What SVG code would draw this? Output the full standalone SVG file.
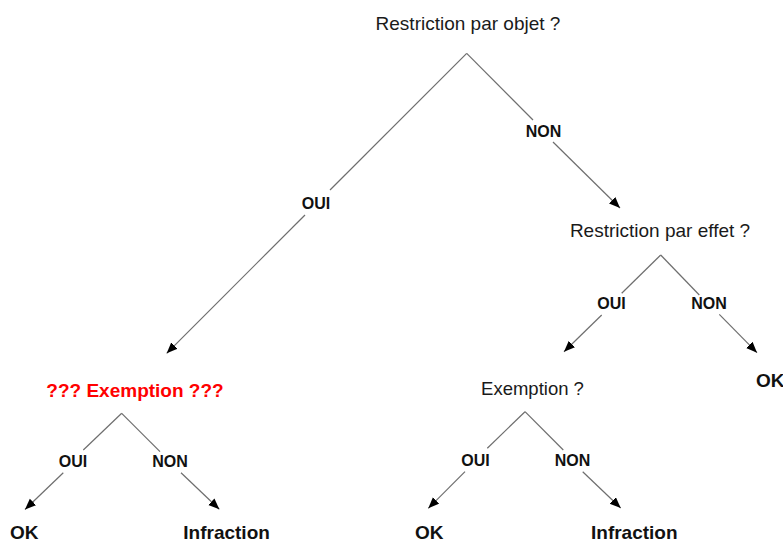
<svg xmlns="http://www.w3.org/2000/svg" width="783" height="542" viewBox="0 0 783 542">
<style>
.q{font-family:"Liberation Sans",Arial,sans-serif;font-size:19px;fill:#1a1a1a;text-anchor:middle}
.lbl{font-family:"Liberation Sans",Arial,sans-serif;font-size:16px;font-weight:bold;fill:#111;text-anchor:middle}
.res{font-family:"Liberation Sans",Arial,sans-serif;font-size:19px;font-weight:bold;fill:#111}
.red{font-family:"Liberation Sans",Arial,sans-serif;font-size:19px;font-weight:bold;fill:#ff0000;text-anchor:middle}
#connectors line{stroke:#6e6e6e;stroke-width:1.2;fill:none}
#connectors line.a{marker-end:url(#arr)}
</style>
<defs>
<marker id="arr" markerUnits="userSpaceOnUse" markerWidth="12" markerHeight="10" refX="11" refY="4.5" orient="auto">
<path d="M0,0 L11,4.5 L0,9 Z" fill="#000"/>
</marker>
</defs>
<rect width="783" height="542" fill="#fff"/>
<g id="connectors">
<line x1="466.7" y1="53.3" x2="330" y2="190"/>
<line class="a" x1="305" y1="215" x2="166.7" y2="353.3"/>
<line x1="466.7" y1="53.3" x2="533" y2="120"/>
<line class="a" x1="553" y1="142" x2="620" y2="208"/>
<line x1="660.7" y1="255" x2="621.7" y2="293.3"/>
<line class="a" x1="601.7" y1="315" x2="564" y2="351.7"/>
<line x1="660.7" y1="255" x2="699.3" y2="295"/>
<line class="a" x1="719.3" y1="314.3" x2="757" y2="352.7"/>
<line x1="121.7" y1="413.3" x2="83.3" y2="450"/>
<line class="a" x1="63.3" y1="472.7" x2="25" y2="509.5"/>
<line x1="121.7" y1="413.3" x2="160" y2="451.7"/>
<line class="a" x1="181" y1="472.7" x2="219.3" y2="509.3"/>
<line x1="525" y1="411.7" x2="487.3" y2="448.3"/>
<line class="a" x1="465" y1="471.7" x2="428.3" y2="508.3"/>
<line x1="525" y1="411.7" x2="563.3" y2="450"/>
<line class="a" x1="582.7" y1="471.7" x2="620.7" y2="508"/>
</g>
<g id="labels">
<text class="lbl" x="316" y="209">OUI</text>
<text class="lbl" x="543.5" y="137">NON</text>
<text class="lbl" x="611.5" y="309">OUI</text>
<text class="lbl" x="709" y="309">NON</text>
<text class="lbl" x="73" y="466.5">OUI</text>
<text class="lbl" x="170" y="466.5">NON</text>
<text class="lbl" x="475.5" y="465.7">OUI</text>
<text class="lbl" x="572.5" y="465.7">NON</text>
</g>
<g id="n-objet"><text class="q" x="468" y="30">Restriction par objet ?</text></g>
<g id="n-effet"><text class="q" x="660" y="237">Restriction par effet ?</text></g>
<g id="n-ok-effet"><text class="res" x="756" y="387">OK</text></g>
<g id="n-exemption-red"><text class="red" x="135" y="397">??? Exemption ???</text></g>
<g id="n-ok-left"><text class="res" x="10" y="539">OK</text></g>
<g id="n-infraction-left"><text class="res" x="183.3" y="539">Infraction</text></g>
<g id="n-exemption"><text class="q" x="532.5" y="395" style="font-size:18.5px">Exemption ?</text></g>
<g id="n-ok-right"><text class="res" x="415" y="539">OK</text></g>
<g id="n-infraction-right"><text class="res" x="591" y="538.5">Infraction</text></g>
</svg>
